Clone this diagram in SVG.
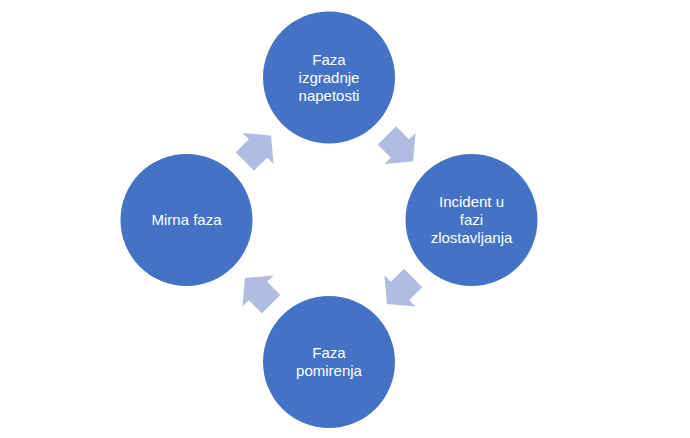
<svg xmlns="http://www.w3.org/2000/svg" width="690" height="438" viewBox="0 0 690 438">
  <style>
    .node { fill: #4472C4; }
    .lbl { fill: #FFFFFF; font-family: "Liberation Sans", Arial, sans-serif; font-size: 15px; text-anchor: middle; }
    .arr { fill: #B0BCE0; }
  </style>
  <defs>
    <path id="blockArrow" d="M-18.5,-13 L0,-13 L0,-22 L18.5,0 L0,22 L0,13 L-18.5,13 Z"/>
  </defs>
  <rect width="690" height="438" fill="#FFFFFF"/>
  <g id="connectors">
    <use href="#blockArrow" class="arr" transform="translate(258,148.5) rotate(-45)"/>
    <use href="#blockArrow" class="arr" transform="translate(400,148.5) rotate(45)"/>
    <use href="#blockArrow" class="arr" transform="translate(400,291) rotate(135)"/>
    <use href="#blockArrow" class="arr" transform="translate(258,291) rotate(-135)"/>
  </g>
  <g id="node-top">
    <circle class="node" cx="329" cy="77.5" r="66"/>
    <text class="lbl" x="329" y="65">Faza</text>
    <text class="lbl" x="329" y="83">izgradnje</text>
    <text class="lbl" x="329" y="101">napetosti</text>
  </g>
  <g id="node-right">
    <circle class="node" cx="471.5" cy="220" r="66"/>
    <text class="lbl" x="471.5" y="207">Incident u</text>
    <text class="lbl" x="471.5" y="225">fazi</text>
    <text class="lbl" x="471.5" y="243">zlostavljanja</text>
  </g>
  <g id="node-bottom">
    <circle class="node" cx="329" cy="362" r="66"/>
    <text class="lbl" x="329" y="358">Faza</text>
    <text class="lbl" x="329" y="376">pomirenja</text>
  </g>
  <g id="node-left">
    <circle class="node" cx="186.5" cy="220" r="66"/>
    <text class="lbl" x="186.5" y="225">Mirna faza</text>
  </g>
</svg>
